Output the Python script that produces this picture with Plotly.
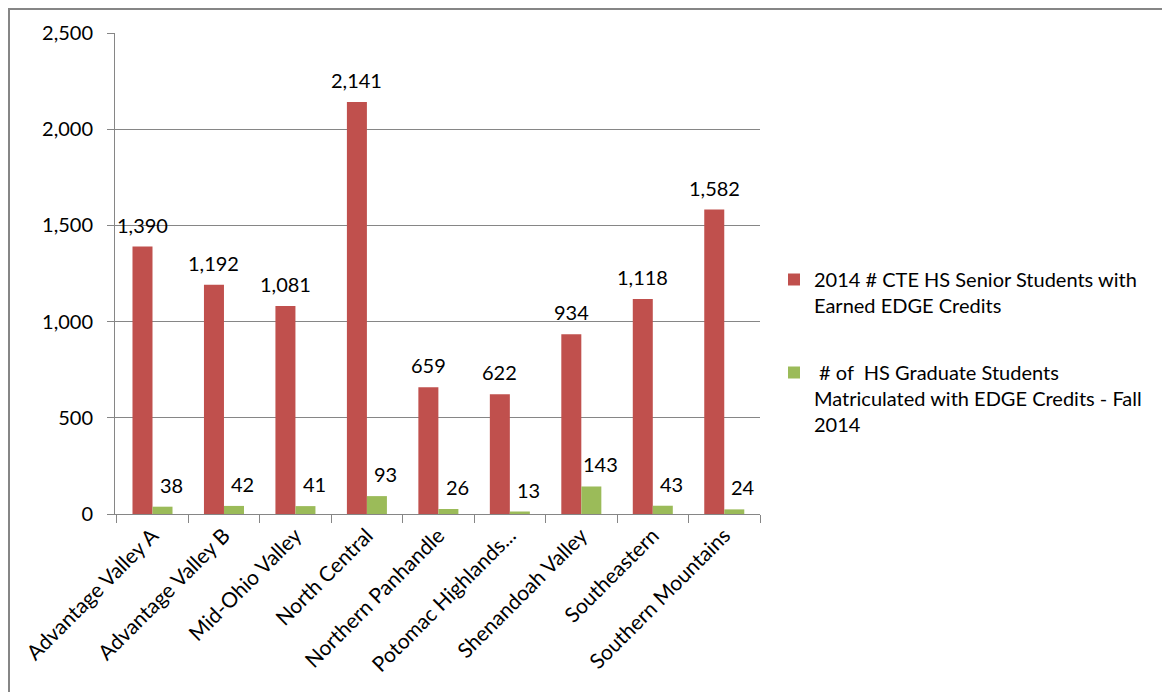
import plotly.graph_objects as go

categories = ["Advantage Valley A", "Advantage Valley B", "Mid-Ohio Valley", "North Central",
              "Northern Panhandle", "Potomac Highlands...", "Shenandoah Valley", "Southeastern",
              "Southern Mountains"]
senior_students = [1390, 1192, 1081, 2141, 659, 622, 934, 1118, 1582]
matriculated = [38, 42, 41, 93, 26, 13, 143, 43, 24]
series_names = ["2014 # CTE HS Senior Students with<br>Earned EDGE Credits",
                " # of  HS Graduate Students<br>Matriculated with EDGE Credits - Fall<br>2014"]
y_ticks = [0, 500, 1000, 1500, 2000, 2500]

RED = "#C0504D"
GREEN = "#9BBB59"
GRID = "#868686"
FONT = "Lato"
FS = 20

W, H = 1162, 692
L, R, T, B = 115, 760, 33, 514

fig = go.Figure()
fig.add_trace(go.Bar(x=categories, y=senior_students, name=series_names[0],
                     marker=dict(color=RED, line=dict(width=0)), legendgroup="a"))
fig.add_trace(go.Bar(x=categories, y=matriculated, name=series_names[1],
                     marker=dict(color=GREEN, line=dict(width=0)), legendgroup="b"))

ann = []
for c, v in zip(categories, senior_students):
    ann.append(dict(x=c, y=v, xref="x", yref="y", text=f"{v:,}", showarrow=False,
                    yanchor="bottom", yshift=8, xshift=-10,
                    font=dict(family=FONT, size=FS, color="#000")))
for c, v in zip(categories, matriculated):
    ann.append(dict(x=c, y=v, xref="x", yref="y", text=f"{v:,}", showarrow=False,
                    yanchor="bottom", yshift=8, xshift=19,
                    font=dict(family=FONT, size=FS, color="#000")))

def px_x(p):
    return (p - L) / (R - L)

def px_y(p):
    return (B - p) / (B - T)

shapes = [dict(type="rect", xref="paper", yref="paper",
               x0=px_x(9), x1=px_x(1250), y0=px_y(780), y1=px_y(9),
               line=dict(color=GRID, width=2), fillcolor="rgba(0,0,0,0)", layer="below")]

fig.update_layout(
    width=W, height=H,
    margin=dict(l=L, r=W - R, t=T, b=H - B, pad=0),
    paper_bgcolor="white", plot_bgcolor="white",
    barmode="group", bargap=0.44, bargroupgap=0,
    font=dict(family=FONT, size=FS, color="#000"),
    showlegend=True,
    legend=dict(x=px_x(774), y=px_y(260), xanchor="left", yanchor="top",
                font=dict(family=FONT, size=FS, color="#000"),
                tracegroupgap=38, traceorder="grouped", itemwidth=30, valign="top",
                bgcolor="rgba(0,0,0,0)"),
    xaxis=dict(showline=True, linecolor=GRID, linewidth=1, ticks="outside",
               ticklen=8, tickcolor=GRID, tickson="boundaries", tickangle=-45,
               tickfont=dict(family=FONT, size=21, color="#000"), showgrid=False,
               automargin=False),
    yaxis=dict(range=[0, 2500], tickvals=y_ticks, ticktext=[f"{t:,}" for t in y_ticks],
               showline=True, linecolor=GRID, linewidth=1, ticks="outside", ticklen=7,
               tickcolor=GRID, showgrid=True, gridcolor=GRID, gridwidth=1,
               tickfont=dict(family=FONT, size=FS, color="#000"), zeroline=False,
               ticklabelstandoff=10, automargin=False),
    annotations=ann, shapes=shapes,
)

fig.write_html("out.html")
